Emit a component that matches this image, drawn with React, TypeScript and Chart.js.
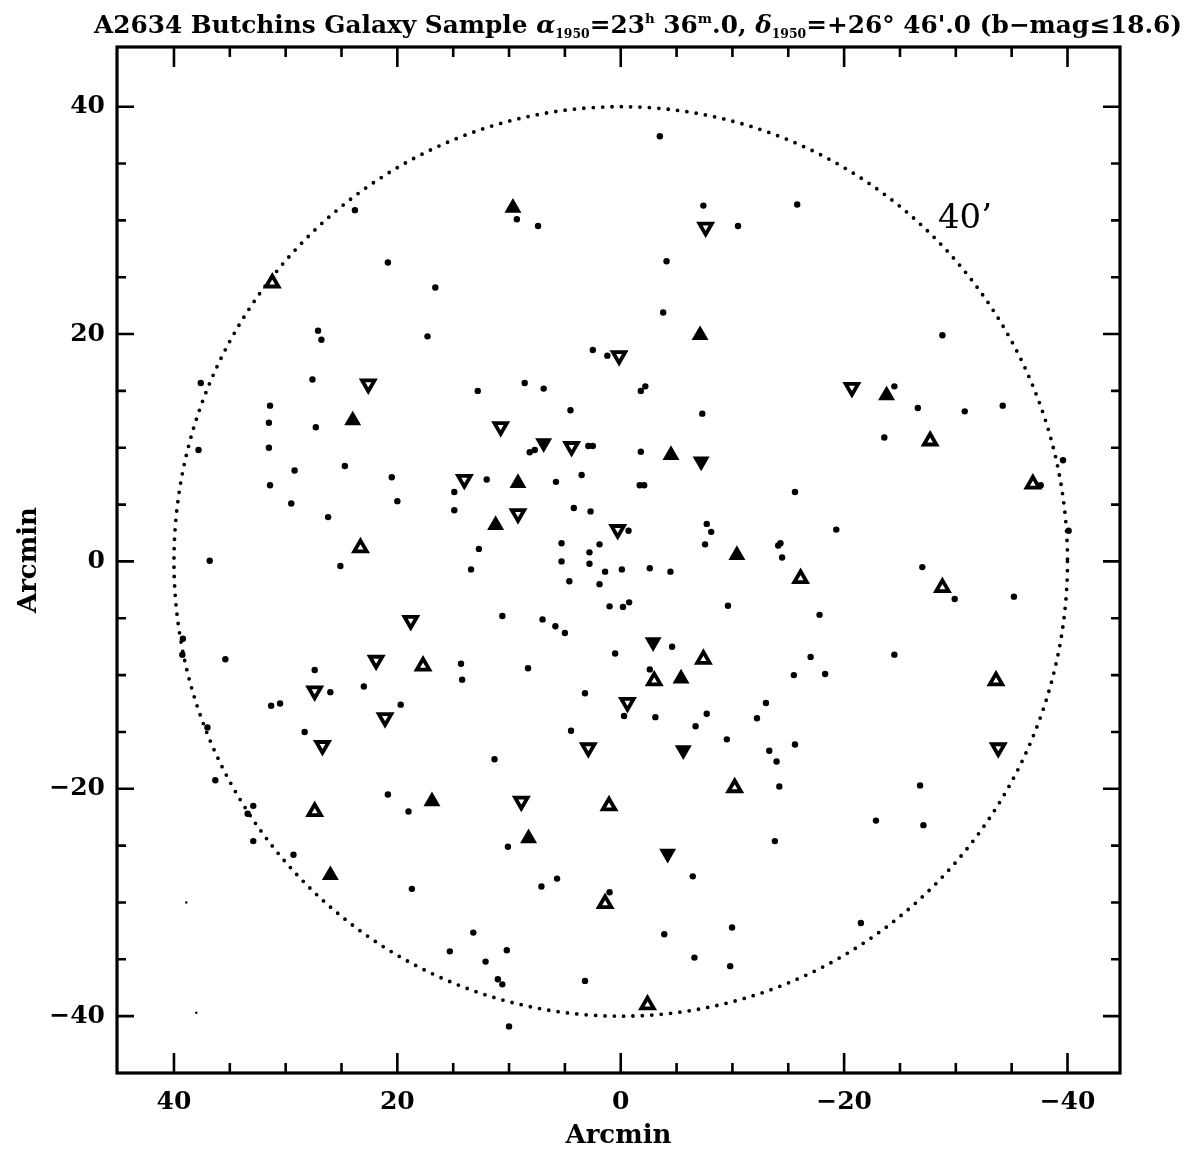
import { useEffect, useRef } from 'react';
import { Chart, registerables } from 'chart.js';

Chart.register(...registerables);

// Galaxy positions in arcmin (x = RA offset, y = Dec offset)
const galaxyDots: [number, number][] = [
  [23.8, 30.9], [20.85, 26.3], [16.6, 24.1], [27.1, 20.3], [26.8, 19.5], [17.3, 19.8], [37.6, 15.7], [27.6, 16.0],
  [31.4, 13.7], [31.5, 12.2], [27.3, 11.8], [37.8, 9.8], [31.5, 10.0], [29.2, 8.0], [24.7, 8.4], [20.5, 7.4],
  [14.9, 6.1], [31.4, 6.7], [29.5, 5.1], [20.0, 5.3], [14.9, 4.5], [26.2, 3.9],
  [-3.5, 37.4], [9.3, 30.1], [7.4, 29.5], [-7.4, 31.3], [-10.5, 29.5], [-4.1, 26.4], [-3.8, 21.9], [2.5, 18.6],
  [1.2, 18.1], [12.8, 15.0], [8.6, 15.7], [6.9, 15.2], [-1.8, 15.0], [-2.2, 15.4], [4.5, 13.3], [-7.3, 13.0],
  [8.15, 9.6], [7.7, 9.8], [2.9, 10.15], [2.5, 10.15], [-1.8, 9.65], [12.0, 7.2], [5.8, 7.0], [3.5, 7.6],
  [-1.7, 6.7], [-2.1, 6.7], [4.2, 4.7], [2.7, 4.4], [-0.7, 2.7], [-7.7, 3.3], [-8.1, 2.6], [12.7, 1.1],
  [5.3, 1.6], [1.9, 1.5], [2.8, 0.8], [-7.55, 1.5], [-14.1, 1.4], [-14.3, 1.6], [-14.45, 0.35], [5.3, 0.0],
  [-15.8, 31.4], [-28.8, 19.9], [-24.5, 15.4], [-26.6, 13.5], [-30.8, 13.2], [-34.2, 13.7], [-23.6, 10.9],
  [-39.6, 8.9], [-37.6, 6.7], [-15.6, 6.1], [-19.3, 2.8], [-40.1, 2.7],
  [36.8, 0.06], [25.1, -0.4], [39.2, -6.8], [39.25, -8.2], [35.4, -8.6], [27.4, -9.55], [26.0, -11.5], [23.0, -11.0],
  [31.3, -12.7], [30.5, -12.5], [19.7, -12.6], [37.0, -14.6], [28.3, -15.0], [36.3, -19.25], [20.85, -20.5],
  [19.0, -22.0], [32.9, -21.5], [33.4, -22.2], [32.9, -24.6], [29.3, -25.8], [18.7, -28.8], [15.3, -34.3],
  [13.4, -0.7], [2.8, -0.2], [1.4, -0.9], [-0.1, -0.7], [-2.6, -0.6], [-4.45, -0.9], [4.6, -1.75], [1.9, -2.0],
  [1.0, -3.95], [-0.2, -4.0], [-0.75, -3.6], [-9.6, -3.9], [10.6, -4.8], [7.0, -5.1], [5.85, -5.7], [5.0, -6.3],
  [-4.6, -7.5], [0.5, -8.1], [14.3, -9.0], [14.2, -10.4], [8.3, -9.4], [-2.6, -9.5], [3.2, -11.6], [-0.3, -13.6],
  [-3.1, -13.7], [-7.7, -13.4], [-6.7, -14.5], [-13.0, -12.45], [-12.2, -13.8], [4.45, -14.9], [-9.5, -15.65],
  [-13.3, -16.65], [-13.95, -17.6], [11.3, -17.4], [-14.2, -19.8], [10.1, -25.1], [-13.8, -24.6], [-6.45, -27.7],
  [7.1, -28.6], [5.7, -27.9], [1.0, -29.1], [13.2, -32.65], [-3.9, -32.8], [-9.97, -32.2], [10.2, -34.2],
  [12.1, -35.2], [-6.6, -34.85], [-9.8, -35.6], [11.0, -36.75], [10.6, -37.2], [3.2, -36.9], [10.0, -40.9],
  [-27.0, -0.5], [-29.9, -3.3], [-35.2, -3.1], [-17.8, -4.7], [-17.0, -8.4], [-15.5, -10.0], [-18.3, -9.9],
  [-24.5, -8.2], [-15.6, -16.1], [-26.8, -19.7], [-22.85, -22.8], [-27.1, -23.2], [-21.5, -31.8],
];

const faintDots: [number, number][] = [[38.9, -30.0], [38.0, -39.7]];

const upSolid: [number, number][] = [
  [24.0, 12.4], [9.65, 31.1], [-7.1, 19.9], [-4.5, 9.35], [9.2, 6.9], [11.2, 3.2], [-10.4, 0.55], [-23.8, 14.6],
  [16.9, -21.1], [26.0, -27.6], [-5.4, -10.3], [8.25, -24.35],
];

const upOpen: [number, number][] = [
  [31.2, 24.5], [23.3, 1.2], [-27.7, 10.6], [-36.9, 6.8], [-16.1, -1.5], [-28.8, -2.3], [-33.6, -10.5],
  [17.7, -9.2], [27.4, -22.0], [-7.4, -8.6], [-3.0, -10.5], [-10.2, -19.9], [1.05, -21.5], [1.4, -30.1], [-2.4, -39.0],
];

const downSolid: [number, number][] = [[-7.2, 8.8], [-2.9, -7.1], [-5.6, -16.6], [-4.2, -25.7], [6.9, 10.4]];

const downOpen: [number, number][] = [
  [22.6, 15.6], [-7.6, 29.4], [0.15, 18.1], [10.75, 11.85], [4.4, 10.1], [14.0, 7.2], [0.27, 2.8], [9.2, 4.2],
  [-20.7, 15.3], [-33.8, -16.4], [18.8, -5.2], [21.9, -8.7], [27.4, -11.4], [21.1, -13.75], [26.7, -16.2],
  [-0.6, -12.4], [2.9, -16.4], [8.9, -21.1],
];

const tickValues = [-40, -35, -30, -25, -20, -15, -10, -5, 0, 5, 10, 15, 20, 25, 30, 35, 40];
const labeledTicks = [-40, -20, 0, 20, 40];
const circleRadius = 40;
const circleLabel = '40\u2019';

const W = 1189;
const H = 1152;
const FRAME = { left: 117, top: 47, right: 1120, bottom: 1073 };
const SERIF = '"DejaVu Serif", serif';

const toPoints = (arr: [number, number][]) => arr.map(([x, y]) => ({ x, y }));
const fmtTick = (v: number) => (v < 0 ? '\u2212' + Math.abs(v) : String(v));

const titleSegments = [
  { t: 'A2634 Butchins Galaxy Sample ', k: 'n' },
  { t: '\u03b1', k: 'i' },
  { t: '1950', k: 'sub' },
  { t: '=23', k: 'n' },
  { t: 'h', k: 'sup' },
  { t: ' 36', k: 'n' },
  { t: 'm', k: 'sup' },
  { t: '.0, ', k: 'n' },
  { t: '\u03b4', k: 'i' },
  { t: '1950', k: 'sub' },
  { t: '=+26\u00b0 46\'.0 (b\u2212mag\u226418.6)', k: 'n' },
];

const segFont = (k: string) => {
  if (k === 'i') return `italic bold 24px ${SERIF}`;
  if (k === 'sub') return `bold 12px ${SERIF}`;
  if (k === 'sup') return `bold 13px ${SERIF}`;
  return `bold 24px ${SERIF}`;
};
const segShift = (k: string) => (k === 'sub' ? 5 : k === 'sup' ? -10 : 0);

const decorPlugin = {
  id: 'decor',
  beforeDatasetsDraw(chart: any) {
    const { ctx, scales } = chart;
    const xs = scales.x;
    const ys = scales.y;
    const cx = xs.getPixelForValue(0);
    const cy = ys.getPixelForValue(0);
    const rx = Math.abs(xs.getPixelForValue(circleRadius) - cx);
    const ry = Math.abs(ys.getPixelForValue(circleRadius) - cy);
    ctx.save();
    ctx.beginPath();
    ctx.ellipse(cx, cy, rx, ry, 0, 0, Math.PI * 2);
    ctx.setLineDash([0, 9.4]);
    ctx.lineCap = 'round';
    ctx.lineWidth = 3.8;
    ctx.strokeStyle = '#000';
    ctx.stroke();
    ctx.restore();

    ctx.save();
    ctx.font = `34px ${SERIF}`;
    ctx.fillStyle = '#000';
    ctx.textAlign = 'left';
    ctx.textBaseline = 'alphabetic';
    ctx.fillText(circleLabel, xs.getPixelForValue(-28.4), ys.getPixelForValue(29.3));
    ctx.restore();
  },
  afterDraw(chart: any) {
    const { ctx, chartArea, scales } = chart;
    const { left, right, top, bottom } = chartArea;
    ctx.save();
    ctx.strokeStyle = '#000';
    ctx.lineWidth = 3.2;
    ctx.lineJoin = 'miter';
    ctx.strokeRect(left, top, right - left, bottom - top);

    ctx.lineWidth = 2.6;
    ctx.lineCap = 'butt';
    ctx.beginPath();
    for (const v of tickValues) {
      const major = v % 20 === 0;
      const px = scales.x.getPixelForValue(v);
      const lenX = major ? 20 : 10;
      ctx.moveTo(px, bottom);
      ctx.lineTo(px, bottom - lenX);
      ctx.moveTo(px, top);
      ctx.lineTo(px, top + lenX);
      const py = scales.y.getPixelForValue(v);
      const lenY = major ? 17 : 9;
      ctx.moveTo(left, py);
      ctx.lineTo(left + lenY, py);
      ctx.moveTo(right, py);
      ctx.lineTo(right - lenY, py);
    }
    ctx.stroke();

    // title with sub/superscripts, fitted to its line
    ctx.fillStyle = '#000';
    ctx.textBaseline = 'alphabetic';
    ctx.textAlign = 'left';
    let total = 0;
    for (const s of titleSegments) {
      ctx.font = segFont(s.k);
      total += ctx.measureText(s.t).width;
    }
    const startX = 94;
    const endX = 1182;
    const sx = (endX - startX) / total;
    ctx.translate(startX, 33);
    ctx.scale(sx, 1);
    let xPos = 0;
    for (const s of titleSegments) {
      ctx.font = segFont(s.k);
      ctx.fillText(s.t, xPos, segShift(s.k));
      xPos += ctx.measureText(s.t).width;
    }
    ctx.restore();
  },
};

export default function App() {
  const canvasRef = useRef<HTMLCanvasElement | null>(null);

  useEffect(() => {
    if (!canvasRef.current) return;
    const tri = (data: [number, number][], solid: boolean, down: boolean, bw: number) => ({
      data: toPoints(data),
      pointStyle: 'triangle',
      pointRadius: 7.2,
      pointRotation: down ? 180 : 0,
      pointBackgroundColor: solid ? '#000' : '#fff',
      pointBorderColor: '#000',
      pointBorderWidth: bw,
      showLine: false,
    });
    const chart = new Chart(canvasRef.current, {
      type: 'scatter',
      data: {
        datasets: [
          {
            data: toPoints(galaxyDots),
            pointStyle: 'circle',
            pointRadius: 3.2,
            pointBackgroundColor: '#000',
            pointBorderWidth: 0,
            showLine: false,
          },
          {
            data: toPoints(faintDots),
            pointStyle: 'circle',
            pointRadius: 1.2,
            pointBackgroundColor: '#000',
            pointBorderWidth: 0,
            showLine: false,
          },
          tri(upSolid, true, false, 2.6),
          tri(upOpen, false, false, 3.8),
          tri(downSolid, true, true, 2.6),
          tri(downOpen, false, true, 3.8),
        ] as any,
      },
      options: {
        responsive: false,
        devicePixelRatio: 1,
        animation: false,
        events: [],
        layout: { padding: { left: 0, top: FRAME.top, right: W - FRAME.right, bottom: 0 } },
        plugins: { legend: { display: false }, tooltip: { enabled: false }, title: { display: false } },
        scales: {
          x: {
            type: 'linear',
            reverse: true,
            min: -44.7,
            max: 45.1,
            grid: { display: false, drawTicks: false },
            border: { display: false },
            afterBuildTicks: (s: any) => {
              s.ticks = tickValues.map((v) => ({ value: v }));
            },
            afterFit: (s: any) => {
              s.height = H - FRAME.bottom;
            },
            ticks: {
              autoSkip: false,
              maxRotation: 0,
              padding: 14,
              color: '#000',
              font: { family: SERIF, size: 25, weight: 'bold' },
              callback: (v: any) => (labeledTicks.includes(Number(v)) ? fmtTick(Number(v)) : ''),
            },
            title: {
              display: true,
              text: 'Arcmin',
              color: '#000',
              font: { family: SERIF, size: 26, weight: 'bold' },
              padding: { top: 0, bottom: 0 },
            },
          },
          y: {
            type: 'linear',
            min: -45,
            max: 45.25,
            grid: { display: false, drawTicks: false },
            border: { display: false },
            afterBuildTicks: (s: any) => {
              s.ticks = tickValues.map((v) => ({ value: v }));
            },
            afterFit: (s: any) => {
              s.width = FRAME.left;
            },
            ticks: {
              autoSkip: false,
              padding: 12,
              color: '#000',
              font: { family: SERIF, size: 25, weight: 'bold' },
              callback: (v: any) => (labeledTicks.includes(Number(v)) ? fmtTick(Number(v)) : ''),
            },
            title: {
              display: true,
              text: 'Arcmin',
              color: '#000',
              font: { family: SERIF, size: 26, weight: 'bold' },
              padding: { top: 14, bottom: 0 },
            },
          },
        },
      } as any,
      plugins: [decorPlugin],
    });
    return () => chart.destroy();
  }, []);

  return (
    <div style={{ position: 'absolute', left: 0, top: 0, width: W, height: H, background: '#fff' }}>
      <canvas ref={canvasRef} width={W} height={H} style={{ width: W, height: H, display: 'block' }} />
    </div>
  );
}
